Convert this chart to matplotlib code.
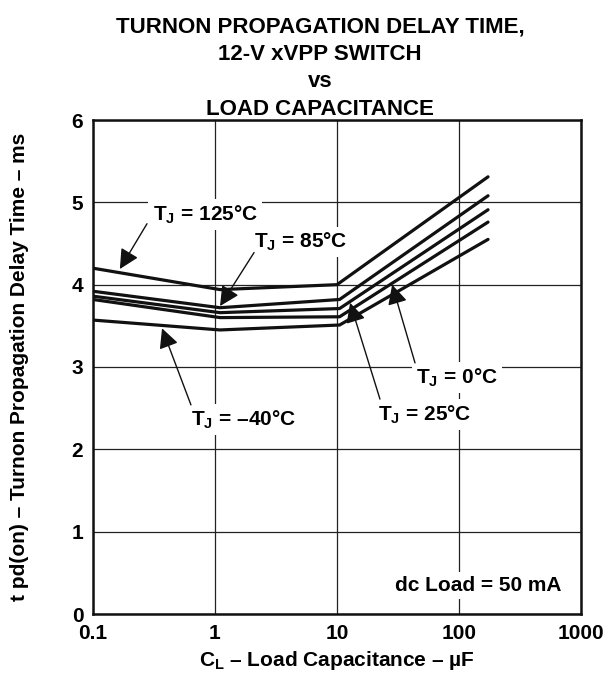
import matplotlib
matplotlib.use('Agg')
import matplotlib.pyplot as plt

# load capacitance breakpoints (uF)
cap_125 = [0.1, 1.1, 10, 173]
cap_other = [0.1, 1.1, 10.5, 173]

# delay time (ms) per junction temperature
delay_125 = [4.20, 3.94, 4.00, 5.31]
delay_85 = [3.92, 3.72, 3.82, 5.08]
delay_25 = [3.86, 3.66, 3.71, 4.91]
delay_0 = [3.82, 3.60, 3.61, 4.76]
delay_m40 = [3.57, 3.45, 3.51, 4.55]

x_ticks = [0.1, 1, 10, 100, 1000]
x_tick_labels = ['0.1', '1', '10', '100', '1000']
y_ticks = [0, 1, 2, 3, 4, 5, 6]

title_lines = ['TURNON PROPAGATION DELAY TIME,', '12-V xVPP SWITCH', 'vs', 'LOAD CAPACITANCE']

plt.rcParams['font.family'] = ['Liberation Sans', 'DejaVu Sans']
plt.rcParams['font.weight'] = 'bold'
plt.rcParams['mathtext.fontset'] = 'custom'
plt.rcParams['mathtext.rm'] = 'Liberation Sans:bold'
plt.rcParams['mathtext.bf'] = 'Liberation Sans:bold'
plt.rcParams['mathtext.it'] = 'Liberation Sans:bold'

W, H = 607, 673
fig = plt.figure(figsize=(W / 100, H / 100), dpi=100)
ax = fig.add_axes([93 / W, 1 - 614 / H, 488 / W, 494 / H])

line_kw = dict(color='#111111', lw=2.3, solid_capstyle='round', zorder=5)
ax.plot(cap_125, delay_125, **line_kw)
ax.plot(cap_other, delay_85, **line_kw)
ax.plot(cap_other, delay_25, **line_kw)
ax.plot(cap_other, delay_0, **line_kw)
ax.plot(cap_other, delay_m40, **line_kw)

ax.set_xscale('log')
ax.set_xlim(0.1, 1000)
ax.set_ylim(0, 6)
ax.set_xticks(x_ticks)
ax.set_xticklabels(x_tick_labels)
ax.set_yticks(y_ticks)
ax.minorticks_off()
ax.tick_params(length=0, labelsize=15, pad=7)
ax.grid(True, color='#222222', lw=0.9, zorder=1)
ax.set_axisbelow(True)
for sp in ax.spines.values():
    sp.set_linewidth(1.8)
    sp.set_color('#111111')

ax.set_xlabel(r'C$_{\mathrm{L}}$ – Load Capacitance – µF', fontsize=15, fontweight='bold', va='center')
ax.xaxis.set_label_coords(0.5, (614 - 661) / 494)
ax.set_ylabel('t pd(on) – Turnon Propagation Delay Time – ms', fontsize=15, fontweight='bold', va='center')
ax.yaxis.set_label_coords((20 - 93) / 488, 0.5)

for i, line in enumerate(title_lines):
    fig.text(320 / W, 1 - (32 + 27.7 * i) / H, line, ha='center', va='baseline',
             fontsize=16, fontweight='bold')

box = dict(facecolor='white', edgecolor='none', pad=3)
arrow = dict(arrowstyle='-|>,head_length=0.6,head_width=0.3', color='#111111', lw=1.0,
             mutation_scale=20, shrinkA=0, shrinkB=0)

labels = [
    (r'T$_{\mathrm{J}}$ = 125°C', (0.83, 4.85), (0.277, 4.74), (0.166, 4.19)),
    (r'T$_{\mathrm{J}}$ = 85°C', (5.07, 4.52), (2.09, 4.39), (1.10, 3.74)),
    (r'T$_{\mathrm{J}}$ = –40°C', (1.70, 2.36), (0.635, 2.54), (0.368, 3.47)),
    (r'T$_{\mathrm{J}}$ = 25°C', (52.6, 2.42), (22.5, 2.61), (12.8, 3.78)),
    (r'T$_{\mathrm{J}}$ = 0°C', (96.3, 2.87), (43.6, 3.05), (28.3, 4.00)),
]
for txt, pos, start, tip in labels:
    ax.text(pos[0], pos[1], txt, ha='center', va='center', fontsize=15, bbox=box, zorder=3)
    ax.annotate('', xy=tip, xytext=start, arrowprops=arrow, zorder=6)

ax.text(698, 0.35, 'dc Load = 50 mA', ha='right', va='center', fontsize=15, bbox=box, zorder=3)

fig.savefig('out.png', dpi=100)
